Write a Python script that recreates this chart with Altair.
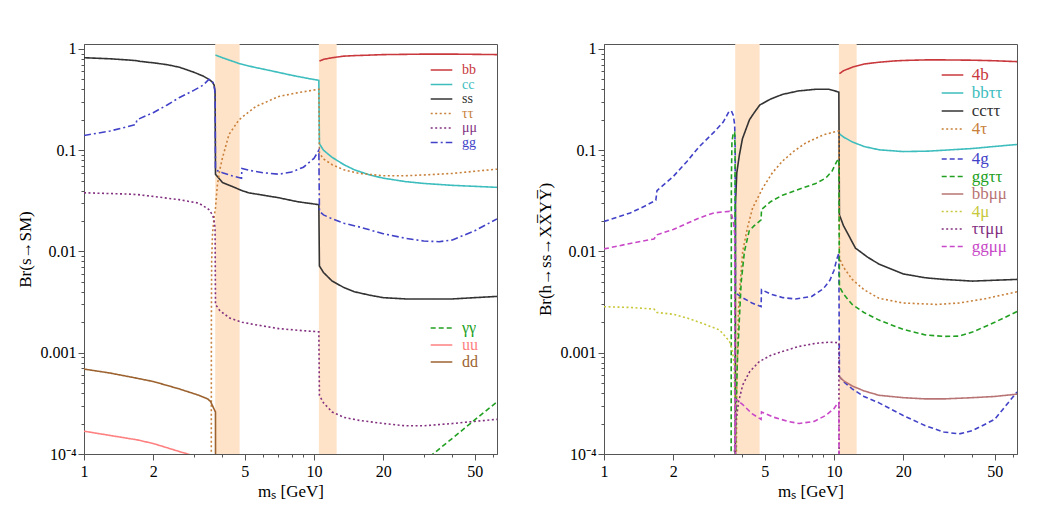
import altair as alt
import pandas as pd

FONT = "Liberation Serif"
BAND = "#FFE3C8"

# ---------------- left panel: Br(s -> SM) ----------------
SS_M = [1.0, 1.3, 1.6, 1.7, 1.75, 2.0, 2.3, 2.6, 3.0, 3.3, 3.5, 3.62, 3.68, 3.715, 3.73, 4.0, 4.4, 4.85, 5.2, 6.0, 7.0, 8.5, 10.5, 10.56, 11.0, 12.0, 13.5, 15.0, 17.5, 20, 25, 30, 40, 50, 62.5]
SS_V = [0.82, 0.80, 0.775, 0.765, 0.755, 0.73, 0.70, 0.66, 0.59, 0.54, 0.50, 0.47, 0.44, 0.38, 0.058, 0.048, 0.044, 0.040, 0.038, 0.036, 0.034, 0.031, 0.029, 0.0072, 0.0062, 0.0051, 0.0044, 0.0040, 0.0037, 0.0035, 0.0034, 0.0034, 0.0034, 0.0035, 0.0036]
BB_M = [10.56, 11, 12, 13.5, 15, 17.5, 20, 25, 30, 40, 50, 62.5]
BB_V = [0.76, 0.79, 0.82, 0.85, 0.86, 0.87, 0.88, 0.885, 0.89, 0.89, 0.885, 0.88]
CC_M = [3.73, 4.0, 4.4, 4.75, 5.5, 6.5, 8, 9.5, 10.5, 10.56, 11, 12, 13.5, 15, 17.5, 20, 25, 30, 40, 50, 62.5]
CC_V = [0.87, 0.82, 0.76, 0.715, 0.66, 0.61, 0.55, 0.51, 0.49, 0.116, 0.10, 0.085, 0.072, 0.064, 0.057, 0.053, 0.049, 0.047, 0.045, 0.044, 0.043]
TT_M = [3.575, 3.58, 3.59, 3.62, 3.68, 3.73, 3.8, 3.9, 4.0, 4.27, 4.72, 5.58, 7.04, 8.5, 10.5, 10.56, 11, 12, 13.5, 15.7, 20, 25, 30, 40, 50, 62.5]
TT_V = [1e-5, 0.002, 0.008, 0.015, 0.022, 0.027, 0.045, 0.065, 0.084, 0.143, 0.20, 0.27, 0.34, 0.37, 0.40, 0.094, 0.082, 0.072, 0.064, 0.059, 0.056, 0.056, 0.057, 0.059, 0.062, 0.065]
MM_M = [1.0, 1.5, 1.7, 2.0, 2.59, 3.16, 3.49, 3.62, 3.67, 3.715, 3.73, 3.9, 4.3, 4.87, 5.5, 7.04, 9, 10.5, 10.56, 11, 12, 13.5, 15.7, 20, 25, 30, 40, 50, 62.5]
MM_V = [0.038, 0.037, 0.0365, 0.035, 0.0325, 0.030, 0.026, 0.023, 0.021, 0.017, 0.0030, 0.0026, 0.0022, 0.0020, 0.0019, 0.00173, 0.00165, 0.00161, 0.00038, 0.00032, 0.00026, 0.00023, 0.000215, 0.0002, 0.00019, 0.00019, 0.0002, 0.00021, 0.00022]
GG_M = [1.0, 1.3, 1.5, 1.68, 1.7, 2.0, 2.3, 2.59, 3.0, 3.3, 3.49, 3.58, 3.65, 3.7, 3.72, 3.73, 4.0, 4.4, 4.84, 4.86, 5.3, 6.0, 7.04, 8.0, 9.0, 10.0, 10.5, 10.56, 11, 12, 13.5, 15.7, 20, 25, 30, 35, 40, 50, 62.5]
GG_V = [0.14, 0.155, 0.168, 0.18, 0.20, 0.235, 0.28, 0.33, 0.39, 0.44, 0.50, 0.49, 0.46, 0.40, 0.30, 0.064, 0.060, 0.056, 0.053, 0.066, 0.063, 0.060, 0.058, 0.061, 0.068, 0.083, 0.10, 0.025, 0.023, 0.021, 0.019, 0.0175, 0.015, 0.0135, 0.0127, 0.0125, 0.013, 0.016, 0.021]
AA_M = [30, 35, 40, 50, 62.5]
AA_V = [0.000084, 0.000112, 0.000143, 0.000217, 0.000327]
UU_M = [1.0, 1.7, 2.0, 2.59, 3.0, 3.3]
UU_V = [0.000168, 0.000138, 0.000127, 0.000106, 0.000096, 0.00009]
DD_M = [1.0, 1.3, 1.7, 2.0, 2.59, 3.16, 3.45, 3.55, 3.62, 3.7, 3.73, 3.735]
DD_V = [0.00069, 0.00063, 0.00056, 0.00052, 0.00044, 0.00038, 0.00035, 0.00033, 0.00030, 0.00027, 0.00026, 0.00001]

# ---------------- right panel: Br(h -> ss -> XXYY) ----------------
B4_M = [10.56, 11, 12, 13.5, 15.7, 18, 20, 25, 30, 40, 50, 62.5]
B4_V = [0.57, 0.61, 0.66, 0.71, 0.74, 0.76, 0.77, 0.78, 0.78, 0.775, 0.765, 0.75]
BT_M = [10.56, 11, 12, 13.5, 15.7, 20, 25.8, 30, 40, 50, 62.5]
BT_V = [0.145, 0.135, 0.121, 0.109, 0.101, 0.097, 0.098, 0.10, 0.104, 0.109, 0.114]
CT_M = [3.725, 3.73, 3.78, 3.88, 4.0, 4.29, 4.5, 4.76, 5.3, 5.97, 7.0, 8.33, 9.5, 10.3, 10.5, 10.56, 11, 12.4, 14, 15.7, 20, 25, 30, 40, 50, 62.5]
CT_V = [1e-5, 0.03, 0.06, 0.09, 0.13, 0.20, 0.235, 0.28, 0.32, 0.356, 0.385, 0.40, 0.40, 0.38, 0.375, 0.023, 0.018, 0.0108, 0.0088, 0.0075, 0.0060, 0.0055, 0.0053, 0.0051, 0.0052, 0.0053]
T4_M = [3.74, 3.78, 3.84, 3.9, 4.01, 4.2, 4.43, 4.89, 5.4, 5.97, 6.7, 7.54, 9.0, 10.3, 10.5, 10.56, 11, 12, 13.5, 15.7, 20, 28, 35, 45, 62.5]
T4_V = [1e-5, 0.0005, 0.0025, 0.0045, 0.01, 0.017, 0.027, 0.042, 0.06, 0.078, 0.098, 0.118, 0.142, 0.154, 0.155, 0.0086, 0.0070, 0.0053, 0.0042, 0.00345, 0.0031, 0.0030, 0.0031, 0.0034, 0.0040]
G4_M = [1.0, 1.3, 1.5, 1.68, 1.7, 2.0, 2.3, 2.59, 3.0, 3.3, 3.49, 3.58, 3.65, 3.7, 3.72, 3.73, 4.0, 4.4, 4.82, 4.84, 5.3, 6.0, 6.8, 8.0, 9.0, 9.6, 10.0, 10.3, 10.5, 10.56, 11, 12, 13.5, 15.7, 20, 25, 30, 35, 40, 50, 62.5]
G4_V = [0.0198, 0.024, 0.028, 0.032, 0.04, 0.055, 0.078, 0.108, 0.15, 0.19, 0.24, 0.245, 0.22, 0.18, 0.1, 0.0039, 0.0035, 0.0031, 0.00285, 0.0042, 0.0038, 0.0035, 0.0034, 0.0036, 0.0043, 0.0052, 0.0065, 0.0085, 0.0096, 0.00058, 0.00052, 0.00044, 0.00037, 0.00032, 0.00024, 0.00019, 0.000165, 0.000158, 0.00017, 0.00022, 0.00041]
GT_M = [3.57, 3.58, 3.6, 3.65, 3.70, 3.715, 3.72, 3.74, 3.8, 3.88, 3.95, 4.08, 4.28, 4.5, 4.82, 4.84, 5.3, 5.97, 7.0, 8.33, 9.2, 9.8, 10.3, 10.5, 10.56, 11, 12, 13.5, 15.7, 20, 25, 30, 35, 40, 50, 62.5]
GT_V = [1e-5, 0.05, 0.12, 0.15, 0.15, 0.10, 1e-5, 0.0002, 0.0008, 0.0022, 0.005, 0.01, 0.016, 0.018, 0.0205, 0.026, 0.031, 0.036, 0.041, 0.047, 0.053, 0.062, 0.078, 0.082, 0.0045, 0.0038, 0.0030, 0.0025, 0.0021, 0.0017, 0.0015, 0.00145, 0.00146, 0.0016, 0.0020, 0.00255]
BM_M = [10.56, 11, 12, 13.5, 15.7, 20, 25, 30, 40, 50, 62.5]
BM_V = [0.00058, 0.00053, 0.00047, 0.00042, 0.00038, 0.00036, 0.00035, 0.00035, 0.00036, 0.00037, 0.00039]
M4_M = [1.0, 1.3, 1.65, 1.7, 2.0, 2.3, 2.6, 3.18, 3.51, 3.6, 3.68, 3.72, 3.73]
M4_V = [0.00285, 0.0028, 0.0027, 0.0025, 0.0024, 0.0022, 0.0020, 0.00168, 0.0013, 0.0011, 0.0008, 0.0002, 1e-5]
TM_M = [3.66, 3.69, 3.72, 3.76, 3.85, 4.01, 4.3, 4.74, 5.3, 5.97, 7.0, 8.33, 9.5, 10.3, 10.5, 10.55]
TM_V = [1e-5, 0.0001, 0.00016, 0.00022, 0.00033, 0.00048, 0.00065, 0.00082, 0.00094, 0.00103, 0.00115, 0.00124, 0.00127, 0.00126, 0.00125, 1e-5]
GM_M = [1.0, 1.3, 1.65, 1.7, 2.0, 2.3, 2.6, 3.0, 3.3, 3.51, 3.6, 3.66, 3.7, 3.72, 3.725, 3.73, 4.0, 4.4, 4.82, 4.84, 5.5, 6.3, 7.05, 8.2, 9.2, 10.0, 10.3, 10.5, 10.55]
GM_V = [0.0106, 0.012, 0.0133, 0.0146, 0.0165, 0.019, 0.0215, 0.024, 0.0246, 0.0249, 0.0225, 0.019, 0.015, 1e-5, 1e-5, 0.00035, 0.00031, 0.00025, 0.00022, 0.00026, 0.00023, 0.00021, 0.0002, 0.00021, 0.00024, 0.00028, 0.00031, 0.00032, 1e-5]

# thresholds (shaded bands) in GeV
BAND_LO = [3.72, 10.5]
BAND_HI = [4.75, 12.55]

RED, CYAN, BLACK, ORANGE = "#C8383C", "#3DBDBD", "#333333", "#C8803A"
PURPLE, BLUE, GREEN = "#82307F", "#4242C8", "#22A022"
PINK, BROWN, ROSY, OLIVE, MAGENTA = "#FF8080", "#9C6330", "#B87474", "#C8C83C", "#C848C8"
SOLID, DOT, DASH, DASHDOT = [1, 0], [2, 2.5], [5, 3], [7, 3, 2, 3]

LEFT = [  # name, m, v, color, dash
    ("bb", BB_M, BB_V, RED, SOLID), ("cc", CC_M, CC_V, CYAN, SOLID),
    ("ss", SS_M, SS_V, BLACK, SOLID), ("ττ", TT_M, TT_V, ORANGE, DOT),
    ("μμ", MM_M, MM_V, PURPLE, DOT), ("gg", GG_M, GG_V, BLUE, DASHDOT),
    ("γγ", AA_M, AA_V, GREEN, DASH), ("uu", UU_M, UU_V, PINK, SOLID),
    ("dd", DD_M, DD_V, BROWN, SOLID),
]
RIGHT = [
    ("4b", B4_M, B4_V, RED, SOLID), ("bbττ", BT_M, BT_V, CYAN, SOLID),
    ("ccττ", CT_M, CT_V, BLACK, SOLID), ("4τ", T4_M, T4_V, ORANGE, DOT),
    ("4g", G4_M, G4_V, BLUE, DASH), ("ggττ", GT_M, GT_V, GREEN, DASH),
    ("bbμμ", BM_M, BM_V, ROSY, SOLID), ("4μ", M4_M, M4_V, OLIVE, DOT),
    ("ττμμ", TM_M, TM_V, PURPLE, DOT), ("ggμμ", GM_M, GM_V, MAGENTA, DASH),
]

X_TICKS = [1, 2, 3, 4, 5, 6, 7, 8, 9, 10, 20, 30, 40, 50, 60]
X_LABELED = [1, 2, 5, 10, 20, 50]
Y_TICKS = [k * d for d in [1e-4, 1e-3, 1e-2, 1e-1] for k in range(1, 10)] + [1]

W, H = 413, 410
xscale = alt.Scale(type="log", domain=[1, 62.5], nice=False)
yscale = alt.Scale(type="log", domain=[1e-4, 1.12], nice=False)

x_major = "indexof([1,2,5,10,20,50], datum.value) >= 0"
y_major = "abs(log(datum.value)/LN10 - round(log(datum.value)/LN10)) < 1e-6"

xaxis = alt.Axis(
    values=X_TICKS, labelExpr=f"{x_major} ? '' + datum.value : ''",
    tickSize={"condition": {"test": x_major, "value": 6}, "value": 3},
    labelFlush=False, labelOverlap=False, labelPadding=3,
    title="mₛ [GeV]", titlePadding=4, grid=False,
)


def yaxis(title):
    return alt.Axis(
        values=Y_TICKS,
        labelExpr=("datum.value > 0.9 ? '1' : (abs(datum.value-0.1) < 1e-9 ? '0.1' : "
                   "(abs(datum.value-0.01) < 1e-10 ? '0.01' : (abs(datum.value-0.001) < 1e-11 ? '0.001' : "
                   "(abs(datum.value-0.0001) < 1e-12 ? '10⁻⁴' : ''))))"),
        tickSize={"condition": {"test": y_major, "value": 6}, "value": 3},
        labelOverlap=False, labelPadding=2, minExtent=46, maxExtent=46,
        title=title, titlePadding=4, grid=False,
    )


def panel(spec, groups, ytitle):
    names = [s[0] for s in spec]
    cscale = alt.Scale(domain=names, range=[s[3] for s in spec])
    dscale = alt.Scale(domain=names, range=[s[4] for s in spec])
    rows = []
    for name, ms, vs, _, _ in spec:
        for i, (m, v) in enumerate(zip(ms, vs)):
            rows.append({"series": name, "m": m, "v": v, "i": i})
    df = pd.DataFrame(rows)
    bands = pd.DataFrame({"lo": BAND_LO, "hi": BAND_HI})

    band = alt.Chart(bands).mark_rect(color=BAND).encode(
        x=alt.X("lo:Q", scale=xscale, axis=xaxis), x2="hi:Q",
        y=alt.value(0), y2=alt.value(H))
    lines = alt.Chart(df).mark_line(clip=True, strokeWidth=1.6).encode(
        x=alt.X("m:Q", scale=xscale, axis=xaxis),
        y=alt.Y("v:Q", scale=yscale, axis=yaxis(ytitle)),
        color=alt.Color("series:N", scale=cscale, legend=None),
        strokeDash=alt.StrokeDash("series:N", scale=dscale, legend=None),
        detail="series:N", order="i:Q")
    layers = [band, lines]
    for members, y0, y1, lx0, lx1, tx, fs in groups:
        ldf = pd.DataFrame({"series": members, "row": list(range(len(members)))})
        ysc = alt.Scale(domain=[0, len(members) - 1], range=[y0, y1])
        layers.append(alt.Chart(ldf).mark_rule(strokeWidth=1.6).encode(
            x=alt.value(lx0), x2=alt.value(lx1),
            y=alt.Y("row:Q", scale=ysc, axis=None),
            color=alt.Color("series:N", scale=cscale, legend=None),
            strokeDash=alt.StrokeDash("series:N", scale=dscale, legend=None)))
        layers.append(alt.Chart(ldf).mark_text(
            align="left", baseline="middle", font=FONT, fontSize=fs).encode(
            x=alt.value(tx), y=alt.Y("row:Q", scale=ysc, axis=None),
            text="series:N",
            color=alt.Color("series:N", scale=cscale, legend=None)))
    return alt.layer(*layers).resolve_scale(y="independent").properties(width=W, height=H)


left = panel(LEFT, [
    (["bb", "cc", "ss", "ττ", "μμ", "gg"], 26, 98.5, 346.7, 368.3, 378, 14),
    (["γγ", "uu", "dd"], 284, 318, 346.7, 368.3, 378, 16),
], "Br(s→SM)")
right = panel(RIGHT, [
    (["4b", "bbττ", "ccττ", "4τ"], 31, 85, 337.7, 359.3, 367.7, 17),
    (["4g", "ggττ", "bbμμ", "4μ", "ττμμ", "ggμμ"], 115, 202.5, 337.7, 359.3, 367.7, 17),
], "Br(h→ss→XX̅YY̅)")

chart = alt.hconcat(left, right, spacing=37).resolve_scale(
    color="independent", strokeDash="independent"
).properties(
    padding={"left": 7, "top": 32, "right": 5, "bottom": 5},
    background="white",
).configure_view(stroke="#555", strokeWidth=1).configure_axis(
    labelFont=FONT, titleFont=FONT, labelFontSize=16, titleFontSize=17,
    labelColor="black", titleColor="black", titleFontWeight="normal",
    domainColor="#555", tickColor="#555", grid=False,
)

chart.save("out.html", embed_options={"renderer": "svg", "actions": False})
